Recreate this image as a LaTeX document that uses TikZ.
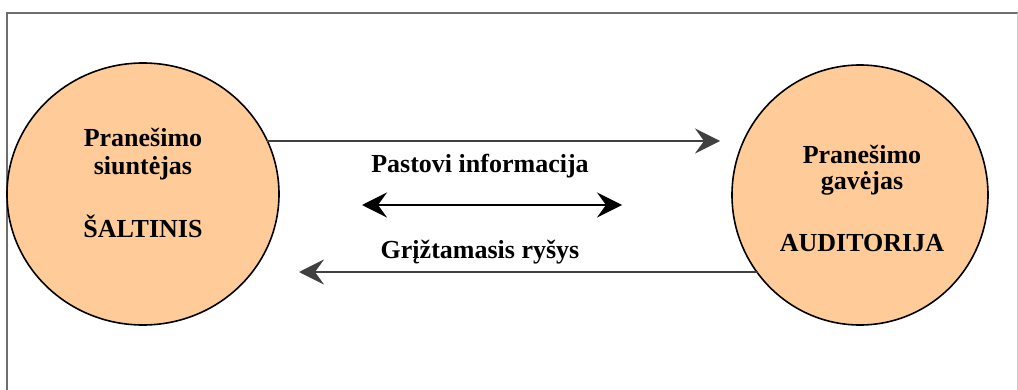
\documentclass[tikz,border=0pt]{standalone}
\usepackage{fontspec}
\setmainfont{Liberation Serif}
\usetikzlibrary{arrows.meta,shapes.geometric}
\definecolor{peach}{RGB}{255,204,153}
\definecolor{arrowgray}{RGB}{64,64,64}
\definecolor{framegray}{RGB}{110,110,110}
\tikzset{
    party/.style={ellipse, draw=black, line width=0.8pt, fill=peach, inner sep=0pt},
    lbl/.style={font=\fontsize{13}{15}\selectfont\bfseries, anchor=base, inner sep=0pt},
    head/.tip={Stealth[length=12.5pt, width=12.5pt, inset=4.5pt]},
    flow/.style={draw=arrowgray, line width=1pt, -head},
    both/.style={draw=black, line width=1pt, head-head}
}
\begin{document}
\begin{tikzpicture}[x=0.5pt, y=-0.5pt]
                \useasboundingbox (0,0) rectangle (1018,390);
                % frame
                \draw[framegray, line width=0.6pt] (7,390) -- (7,13) -- (1018,13);
                \draw[gray!40, line width=0.4pt] (1017,13) -- (1017,390);
                % the two parties
                \node[party, minimum width=136pt, minimum height=131pt] (src) at (143,194) {};
                \node[party, minimum width=128pt, minimum height=130pt] (dst) at (860,195) {};
                \node[lbl] (srcA) at (143,147) {Pranešimo};
                \node[lbl] (srcB) at (143,175) {siuntėjas};
                \node[lbl] (srcC) at (143,237) {ŠALTINIS};
                \node[lbl] (dstA) at (862,163) {Pranešimo};
                \node[lbl] (dstB) at (862,190) {gavėjas};
                \node[lbl] (dstC) at (862,251) {AUDITORIJA};
                % messages
                \node[lbl] (info) at (480,173) {Pastovi informacija};
                \node[lbl] (fback) at (480,258) {Grįžtamasis ryšys};
                \coordinate (msgtip) at (720,141);
                \coordinate (fbtip) at (299,272);
                \coordinate (infoL) at (362,205);
                \coordinate (infoR) at (622,205);
                \draw[flow] (src.24 |- msgtip) -- (msgtip);
                \draw[flow] (dst.218 |- fbtip) -- (fbtip);
                \draw[both] (infoL) -- (infoR);
\end{tikzpicture}
\end{document}
